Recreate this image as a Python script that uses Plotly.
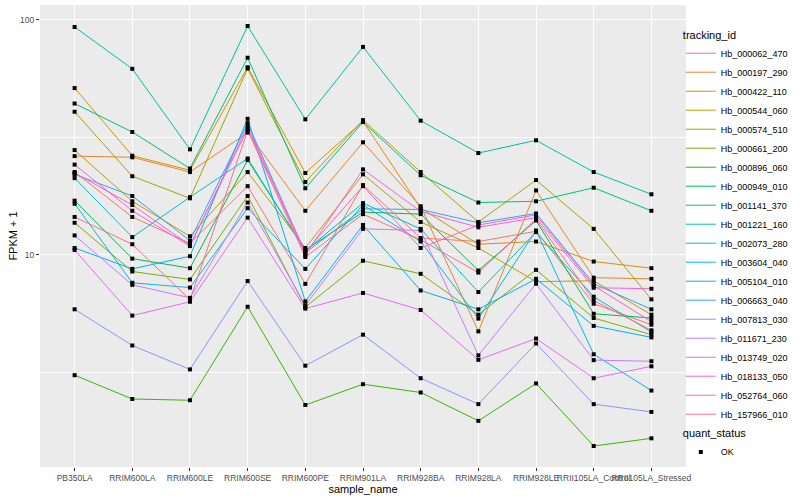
import numpy as np
import plotly.graph_objects as go

samples = ["PB350LA", "RRIM600LA", "RRIM600LE", "RRIM600SE", "RRIM600PE", "RRIM901LA",
           "RRIM928BA", "RRIM928LA", "RRIM928LE", "RRII105LA_Control", "RRII105LA_Stressed"]

tracking_ids = ["Hb_000062_470", "Hb_000197_290", "Hb_000422_110", "Hb_000544_060", "Hb_000574_510",
                "Hb_000661_200", "Hb_000896_060", "Hb_000949_010", "Hb_001141_370", "Hb_001221_160",
                "Hb_002073_280", "Hb_003604_040", "Hb_005104_010", "Hb_006663_040", "Hb_007813_030",
                "Hb_011671_230", "Hb_013749_020", "Hb_018133_050", "Hb_052764_060", "Hb_157966_010"]

hue_colors = ["#F8766D", "#EA8331", "#D89000", "#C09B00", "#A3A500", "#7CAE00", "#39B600", "#00BB4E",
              "#00BF7D", "#00C1A3", "#00BFC4", "#00BAE0", "#00B0F6", "#35A2FF", "#9590FF", "#C77CFF",
              "#E76BF3", "#FA62DB", "#FF62BC", "#FF6C91"]

# FPKM + 1 per sample, one list per tracking_id
hb_000062_470 = [22.5, 14.5, 11.2, 19.6, 7.53, 19.8, 11.8, 11.4, 12.6, 6.20, 5.05]
hb_000197_290 = [26.3, 26.0, 22.5, 33.1, 15.4, 30.1, 16.1, 4.73, 18.8, 8.0, 7.91]
hb_000422_110 = [51.2, 26.4, 22.9, 62.8, 22.3, 37.0, 15.8, 11.1, 11.4, 9.37, 8.78]
hb_000544_060 = [27.9, 16.9, 12.0, 22.5, 10.7, 22.0, 13.8, 10.7, 7.7, 7.76, 5.57]
hb_000574_510 = [40.6, 21.6, 17.4, 62.0, 20.4, 37.4, 22.5, 13.8, 20.8, 12.9, 6.47]
hb_000661_200 = [13.7, 8.50, 7.86, 17.8, 6.0, 9.44, 8.31, 5.57, 8.64, 5.39, 4.58]
hb_000896_060 = [3.08, 2.44, 2.41, 6.02, 2.30, 2.82, 2.60, 1.97, 2.84, 1.54, 1.66]
hb_000949_010 = [17.0, 9.64, 8.78, 25.3, 10.5, 15.2, 14.9, 8.58, 14.0, 5.62, 5.39]
hb_001141_370 = [44.0, 33.3, 23.3, 68.9, 19.2, 36.7, 21.8, 16.7, 16.9, 19.3, 15.4]
hb_001221_160 = [93.1, 61.8, 28.1, 94.0, 37.7, 76.6, 37.2, 27.1, 30.7, 22.5, 18.1]
hb_002073_280 = [21.2, 11.9, 17.6, 25.7, 10.4, 16.6, 12.9, 6.95, 12.5, 6.64, 4.7]
hb_003604_040 = [16.5, 7.61, 7.26, 15.8, 8.72, 16.3, 11.4, 5.36, 12.7, 3.78, 2.65]
hb_005104_010 = [10.7, 8.72, 9.87, 37.9, 6.34, 13.4, 7.06, 5.87, 7.91, 4.99, 4.46]
hb_006663_040 = [22.0, 17.8, 11.5, 36.3, 10.2, 15.7, 15.6, 13.7, 15.0, 7.54, 5.87]
hb_007813_030 = [5.87, 4.12, 3.26, 7.74, 3.38, 4.58, 2.99, 2.32, 4.20, 2.32, 2.15]
hb_011671_230 = [12.1, 7.46, 6.57, 16.7, 6.10, 12.9, 12.7, 3.74, 7.54, 3.57, 3.53]
hb_013749_020 = [10.5, 5.52, 6.32, 14.4, 5.91, 6.89, 5.83, 3.58, 4.41, 2.99, 3.36]
hb_018133_050 = [24.2, 15.4, 10.9, 35.2, 10.0, 23.1, 15.3, 13.1, 14.4, 7.25, 7.18]
hb_052764_060 = [22.3, 16.3, 11.0, 34.2, 10.3, 19.6, 10.7, 13.4, 14.8, 7.4, 5.2]
hb_157966_010 = [14.5, 11.1, 6.45, 33.8, 9.8, 14.9, 11.6, 8.41, 14.2, 6.4, 4.78]

series = [hb_000062_470, hb_000197_290, hb_000422_110, hb_000544_060, hb_000574_510,
          hb_000661_200, hb_000896_060, hb_000949_010, hb_001141_370, hb_001221_160,
          hb_002073_280, hb_003604_040, hb_005104_010, hb_006663_040, hb_007813_030,
          hb_011671_230, hb_013749_020, hb_018133_050, hb_052764_060, hb_157966_010]

quant_status = "OK"

fig = go.Figure()

for name, col, vals in zip(tracking_ids, hue_colors, series):
    fig.add_trace(go.Scatter(
        x=samples, y=vals, mode="lines", name=name,
        line=dict(color=col, width=1), legend="legend", legendgroup=name,
    ))

for name, vals in zip(tracking_ids, series):
    fig.add_trace(go.Scatter(
        x=samples, y=vals, mode="markers", showlegend=False,
        marker=dict(color="black", size=4, symbol="square"),
    ))

fig.add_trace(go.Scatter(
    x=[None], y=[None], mode="markers", name=quant_status, legend="legend2",
    marker=dict(color="black", size=4, symbol="square"),
))

allv = np.concatenate([np.array(s, dtype=float) for s in series])
lo, hi = np.log10(allv.min()), np.log10(allv.max())
pad = 0.05 * (hi - lo)

font_family = "Liberation Sans, Arial, sans-serif"

fig.update_layout(
    width=800, height=500,
    margin=dict(l=40, r=114, t=5, b=33),
    paper_bgcolor="white",
    plot_bgcolor="#EBEBEB",
    font=dict(family=font_family, size=9, color="black"),
    xaxis=dict(
        type="category", categoryorder="array", categoryarray=samples,
        range=[-0.6, len(samples) - 0.4],
        showgrid=True, gridcolor="white", gridwidth=1.1,
        ticks="outside", ticklen=3, tickcolor="#333333", tickwidth=1,
        tickangle=0, tickfont=dict(size=8.5, color="#4D4D4D"),
        title=dict(text="sample_name", font=dict(size=11), standoff=2),
        zeroline=False, showline=False,
    ),
    yaxis=dict(
        type="log", range=[lo - pad, hi + pad],
        tickvals=[10, 100], ticktext=["10", "100"],
        showgrid=True, gridcolor="white", gridwidth=1.1,
        minor=dict(tickvals=[10 ** 0.5, 10 ** 1.5], showgrid=True, gridcolor="white",
                   gridwidth=0.5, ticks=""),
        ticks="outside", ticklen=3, tickcolor="#333333", tickwidth=1,
        tickfont=dict(size=8.5, color="#4D4D4D"),
        title=dict(text="FPKM + 1", font=dict(size=11), standoff=0),
        zeroline=False, showline=False,
    ),
    legend=dict(
        title=dict(text="tracking_id", font=dict(size=11)),
        x=0.992, y=0.958, xanchor="left", yanchor="top",
        font=dict(size=9), itemwidth=30, tracegroupgap=0,
        bgcolor="rgba(0,0,0,0)",
    ),
    legend2=dict(
        title=dict(text="quant_status", font=dict(size=11)),
        x=0.992, y=0.095, xanchor="left", yanchor="top",
        font=dict(size=9), itemwidth=30,
        bgcolor="rgba(0,0,0,0)",
    ),
)

fig.write_html("out.html", config={"displayModeBar": False},
               post_script="document.body.style.margin='0px';")
